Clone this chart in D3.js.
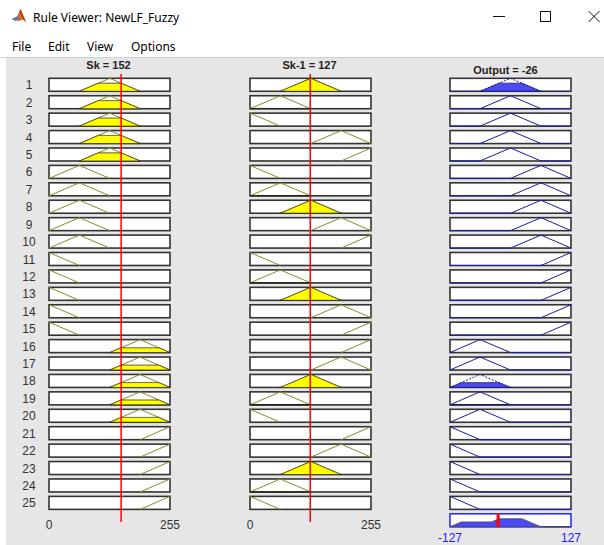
<!DOCTYPE html>
<html>
<head>
<meta charset="utf-8">
<script src="https://cdn.jsdelivr.net/npm/d3@7"></script>
<style>
  html, body { margin: 0; padding: 0; background: #ffffff; }
  svg { display: block; }
</style>
</head>
<body>
<svg id="chart" width="604" height="545"></svg>
<script>
// ---------------- DATA ----------------
const windowTitle = "Rule Viewer: NewLF_Fuzzy";
const menuItems = ["File", "Edit", "View", "Options"];

const ruleNumbers = [1,2,3,4,5,6,7,8,9,10,11,12,13,14,15,16,17,18,19,20,21,22,23,24,25];

const mfNames = ["VL", "L", "M", "H", "VH"];
const inputMFParams = [[0,0,64],[0,64,128],[64,128,192],[128,192,255],[192,255,255]];
const outputMFParams = [[-127,-127,-64],[-127,-64,0],[-64,0,64],[0,64,127],[64,127,127]];

const inputNames = ["Sk", "Sk-1"];
const inputValues = [152, 127];
const inputRange = [0, 255];
const outputName = "Output";
const outputValue = -26;
const outputRange = [-127, 127];

const ruleSk  = ["M","M","M","M","M","L","L","L","L","L","VL","VL","VL","VL","VL","H","H","H","H","H","VH","VH","VH","VH","VH"];
const ruleSk1 = ["M","L","VL","H","VH","VL","L","M","H","VH","VL","L","M","H","VH","VH","H","M","L","VL","VH","H","M","L","VL"];
const ruleOut = ["M","M","M","M","M","H","H","H","H","H","VH","VH","VH","VH","VH","L","L","L","L","L","VL","VL","VL","VL","VL"];

const inputTickLabels = ["0", "255"];
const outputTickLabels = ["-127", "127"];

// ---------------- HELPERS ----------------
function trimf(x, p) {
  const [a, b, c] = p;
  if (x < a || x > c) return 0;
  if (x <= b) return b === a ? 1 : (x - a) / (b - a);
  return c === b ? 1 : (c - x) / (c - b);
}
const mfIn = name => inputMFParams[mfNames.indexOf(name)];
const mfOut = name => outputMFParams[mfNames.indexOf(name)];

// ---------------- LAYOUT ----------------
const svg = d3.select("#chart");
const W = 604, H = 545;
const bg = "#e6e6e6";
const colX = [49, 250, 450];
const colW = 121;
const boxH = 13;
const yRow = d3.scaleLinear().domain([1, 26]).range([78.3, 78.3 + 25 * 17.42]);
const font = "'Liberation Sans', Arial, sans-serif";
const uiFont = "'Noto Sans', 'Open Sans', sans-serif";

// window chrome
svg.append("rect").attr("width", W).attr("height", H).attr("fill", "#ffffff");
svg.append("rect").attr("x", 6).attr("y", 58).attr("width", W - 6).attr("height", H - 58).attr("fill", bg);
svg.append("line").attr("x1", 0).attr("x2", W).attr("y1", 57.5).attr("y2", 57.5).attr("stroke", "#cfcfcf");

// MATLAB-ish icon
const icon = svg.append("g");
icon.append("path").attr("d", "M12,19 L17,16.5 L20.5,9 L26,22 L22.5,19.5 L19,21 Z").attr("fill", "#d9682a");
icon.append("path").attr("d", "M12,19 L17,16.5 L18.5,19.5 L15,21 Z").attr("fill", "#3a7bd0");
icon.append("path").attr("d", "M20.5,9 L26,22 L23.5,20 L19.5,12 Z").attr("fill", "#b8401a");

svg.append("text").attr("x", 33).attr("y", 17).attr("dominant-baseline", "central")
  .attr("font-family", uiFont).attr("font-size", 12).attr("fill", "#000").text(windowTitle);

// window controls
svg.append("line").attr("x1", 493).attr("x2", 505).attr("y1", 16.5).attr("y2", 16.5).attr("stroke", "#111").attr("stroke-width", 1);
svg.append("rect").attr("x", 540.5).attr("y", 11.5).attr("width", 10).attr("height", 10).attr("fill", "none").attr("stroke", "#111");
svg.append("path").attr("d", "M588.5,11 L599.5,22 M599.5,11 L588.5,22").attr("stroke", "#111").attr("stroke-width", 1);

// menu
const menuX = [12, 48, 87, 131];
menuItems.forEach((m, i) => {
  svg.append("text").attr("x", menuX[i]).attr("y", 46).attr("dominant-baseline", "central")
    .attr("font-family", uiFont).attr("font-size", 12).attr("fill", "#000").text(m);
});

// ---------------- CHART ----------------
const g = svg.append("g");

// row numbers
g.selectAll("text.rownum").data(ruleNumbers).enter().append("text")
  .attr("class", "rownum")
  .attr("x", 29).attr("y", d => yRow(d) + boxH / 2 + 0.5)
  .attr("text-anchor", "middle").attr("dominant-baseline", "central")
  .attr("font-family", font).attr("font-size", 12).attr("fill", "#333")
  .text(d => d);

function drawBox(sel, x, y, stroke) {
  sel.append("rect").attr("x", x).attr("y", y).attr("width", colW).attr("height", boxH)
    .attr("fill", "#ffffff").attr("stroke", stroke).attr("stroke-width", 1.6);
}

// input columns
const inputRules = [ruleSk, ruleSk1];
inputRules.forEach((rules, ci) => {
  const x = d3.scaleLinear().domain(inputRange).range([colX[ci], colX[ci] + colW]);
  const val = inputValues[ci];
  const col = g.append("g");
  rules.forEach((mfName, ri) => {
    const top = yRow(ruleNumbers[ri]);
    const y = d3.scaleLinear().domain([0, 1]).range([top + boxH, top]);
    const p = mfIn(mfName);
    drawBox(col, colX[ci], top, "#333333");
    // MF outline
    const pts = [p[0], p[1], p[2]].map(v => [v, trimf(v, p)]);
    col.append("path")
      .attr("d", d3.line().x(d => x(d[0])).y(d => y(d[1]))(pts))
      .attr("fill", "none").attr("stroke", "#8a8a2a").attr("stroke-width", 1);
    // firing fill
    const mu = trimf(val, p);
    if (mu > 0.001) {
      const xs = d3.range(p[0], p[2] + 0.001, 0.25);
      const area = d3.area().x(d => x(d)).y0(y(0)).y1(d => y(Math.min(trimf(d, p), mu)));
      col.append("path").attr("d", area(xs))
        .attr("fill", "#ffff00").attr("stroke", "#1a1a1a").attr("stroke-width", 0.8);
    }
  });
  // red line for input value
  col.append("line").attr("x1", x(val)).attr("x2", x(val)).attr("y1", 74).attr("y2", 522)
    .attr("stroke", "#ff0000").attr("stroke-width", 1.5);
  // title
  g.append("text").attr("x", colX[ci] + colW / 2 - 1).attr("y", 65).attr("text-anchor", "middle")
    .attr("dominant-baseline", "central").attr("font-family", font).attr("font-size", 11)
    .attr("font-weight", "bold").attr("fill", "#222")
    .text(inputNames[ci] + " = " + val);
  // tick labels
  x.domain().forEach((v, k) => {
    g.append("text").attr("x", x(v)).attr("y", 524.5).attr("text-anchor", "middle")
      .attr("dominant-baseline", "central").attr("font-family", font).attr("font-size", 12)
      .attr("fill", "#333").text(inputTickLabels[k]);
  });
});

// output column
const xo = d3.scaleLinear().domain(outputRange).range([colX[2], colX[2] + colW]);
const outCol = g.append("g");
const strengths = ruleNumbers.map((r, ri) =>
  Math.min(trimf(inputValues[0], mfIn(ruleSk[ri])), trimf(inputValues[1], mfIn(ruleSk1[ri]))));

ruleOut.forEach((mfName, ri) => {
  const top = yRow(ruleNumbers[ri]);
  const y = d3.scaleLinear().domain([0, 1]).range([top + boxH, top]);
  const p = mfOut(mfName);
  drawBox(outCol, colX[2], top, "#333333");
  const bp = Array.from(new Set([outputRange[0], p[0], p[1], p[2], outputRange[1]])).sort((a, b) => a - b);
  const pts = bp.map(v => [v, trimf(v, p)]);
  const s = strengths[ri];
  if (s > 0.001) {
    const xs = d3.range(p[0], p[2] + 0.001, 0.25);
    const area = d3.area().x(d => xo(d)).y0(y(0)).y1(d => y(Math.min(trimf(d, p), s)));
    outCol.append("path").attr("d", area(xs))
      .attr("fill", "#4b4bf5").attr("stroke", "#1a1a60").attr("stroke-width", 0.8);
  }
  outCol.append("path")
    .attr("d", d3.line().x(d => xo(d[0])).y(d => y(d[1]))(pts))
    .attr("fill", "none").attr("stroke", "#1c1ca0").attr("stroke-width", 1)
    .attr("stroke-dasharray", s > 0.05 ? "2,1.5" : null);
});

// aggregate row
{
  const top = yRow(26);
  const y = d3.scaleLinear().domain([0, 1]).range([top + boxH, top]);
  outCol.append("rect").attr("x", colX[2]).attr("y", top).attr("width", colW).attr("height", boxH)
    .attr("fill", "#ffffff").attr("stroke", "#2020ff").attr("stroke-width", 1.5);
  const xs = d3.range(outputRange[0], outputRange[1] + 0.001, 0.25);
  const agg = v => d3.max(ruleOut, (m, ri) => Math.min(trimf(v, mfOut(m)), strengths[ri]));
  const area = d3.area().x(d => xo(d)).y0(y(0)).y1(d => y(agg(d)));
  outCol.append("path").attr("d", area(xs))
    .attr("fill", "#4b4bf5").attr("stroke", "#505050").attr("stroke-width", 1);
  outCol.append("line").attr("x1", xo(outputValue)).attr("x2", xo(outputValue))
    .attr("y1", top - 0.5).attr("y2", top + boxH + 0.5)
    .attr("stroke", "#ff0000").attr("stroke-width", 3);
}

g.append("text").attr("x", 505.5).attr("y", 70).attr("text-anchor", "middle")
  .attr("dominant-baseline", "central").attr("font-family", font).attr("font-size", 11)
  .attr("font-weight", "bold").attr("fill", "#222")
  .text(outputName + " = " + outputValue);

xo.domain().forEach((v, k) => {
  g.append("text").attr("x", xo(v)).attr("y", 538).attr("text-anchor", "middle")
    .attr("dominant-baseline", "central").attr("font-family", font).attr("font-size", 12)
    .attr("fill", "#1a1aff").text(outputTickLabels[k]);
});
</script>
</body>
</html>
